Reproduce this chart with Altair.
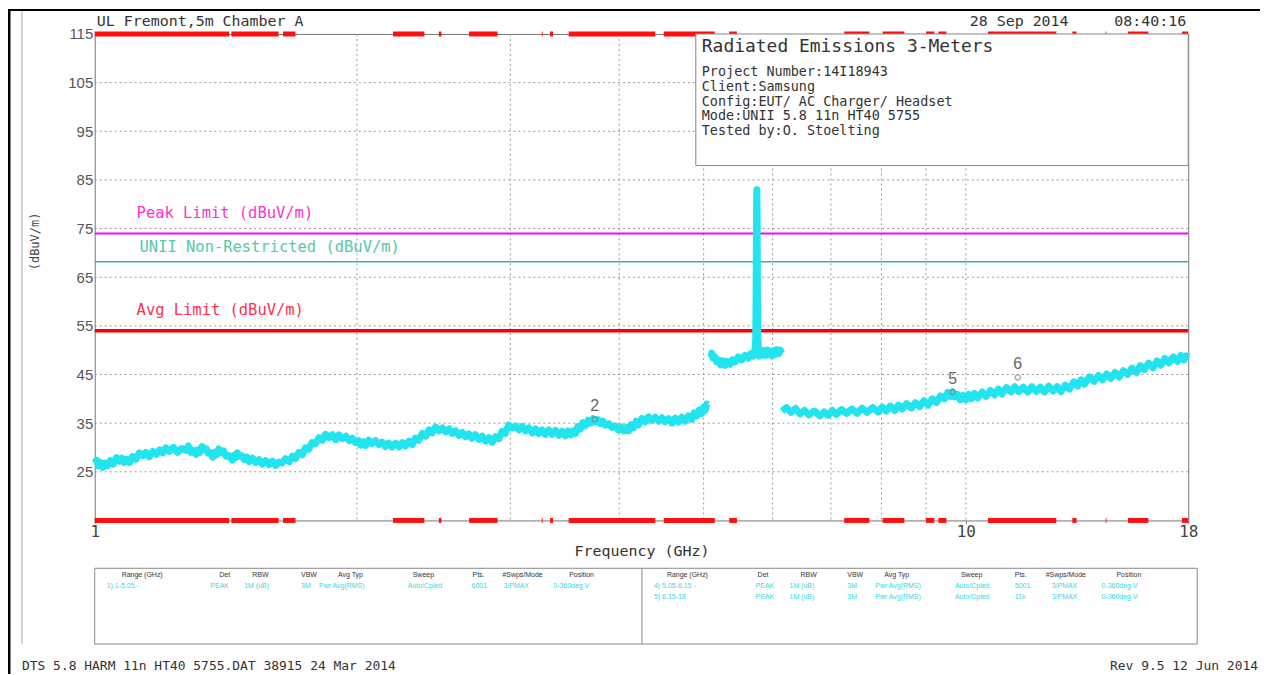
import altair as alt
import pandas as pd

# ---------------- data ----------------
# Trace segment A (1 - 5.06 GHz)
a_freq = [1.000, 1.005, 1.010, 1.016, 1.022, 1.028, 1.035, 1.042, 1.050, 1.059, 1.068, 1.074, 1.080,
          1.088, 1.096, 1.105, 1.115, 1.125, 1.136, 1.145, 1.155, 1.166, 1.177, 1.187, 1.197, 1.207,
          1.218, 1.231, 1.245, 1.259, 1.273, 1.281, 1.290, 1.298, 1.307, 1.314, 1.320, 1.328, 1.336,
          1.343, 1.350, 1.358, 1.366, 1.373, 1.380, 1.388, 1.396, 1.405, 1.415, 1.427, 1.439, 1.446,
          1.452, 1.458, 1.465, 1.475, 1.485, 1.495, 1.504, 1.517, 1.530, 1.544, 1.558, 1.571, 1.585,
          1.600, 1.614, 1.627, 1.640, 1.656, 1.672, 1.686, 1.700, 1.715, 1.731, 1.745, 1.760, 1.776,
          1.793, 1.809, 1.825, 1.841, 1.858, 1.874, 1.890, 1.907, 1.924, 1.942, 1.960, 1.976, 1.993,
          2.008, 2.020, 2.033, 2.046, 2.063, 2.080, 2.100, 2.119, 2.137, 2.155, 2.175, 2.194, 2.215,
          2.236, 2.255, 2.274, 2.295, 2.315, 2.335, 2.355, 2.377, 2.399, 2.420, 2.440, 2.462, 2.484,
          2.507, 2.530, 2.551, 2.573, 2.596, 2.620, 2.642, 2.665, 2.688, 2.710, 2.735, 2.761, 2.785,
          2.810, 2.835, 2.860, 2.885, 2.911, 2.935, 2.960, 2.987, 3.015, 3.042, 3.070, 3.097, 3.123,
          3.151, 3.180, 3.207, 3.234, 3.262, 3.290, 3.320, 3.350, 3.380, 3.410, 3.440, 3.470, 3.495,
          3.520, 3.541, 3.563, 3.586, 3.610, 3.634, 3.658, 3.684, 3.710, 3.733, 3.756, 3.781, 3.806,
          3.831, 3.856, 3.890, 3.925, 3.960, 3.994, 4.022, 4.050, 4.075, 4.101, 4.128, 4.155, 4.183,
          4.211, 4.248, 4.285, 4.323, 4.361, 4.400, 4.440, 4.478, 4.517, 4.558, 4.600, 4.639, 4.678,
          4.719, 4.760, 4.803, 4.845, 4.878, 4.910, 4.943, 4.975, 5.000, 5.020, 5.042, 5.064]
a_level = [26.8, 27.4, 26.2, 26.9, 25.9, 26.8, 26.3, 27.3, 26.6, 27.9, 27.2, 27.8, 26.9,
           27.6, 26.9, 28.1, 27.6, 28.9, 28.3, 29.0, 28.1, 29.2, 28.6, 29.5, 28.9, 29.9,
           29.2, 30.0, 29.0, 29.8, 29.4, 30.3, 29.0, 29.4, 28.6, 29.5, 29.0, 30.2, 29.5,
           29.7, 28.8, 28.9, 28.0, 29.0, 28.5, 29.7, 29.0, 29.3, 28.2, 28.3, 27.4, 28.4,
           27.9, 28.9, 28.2, 28.3, 27.5, 28.0, 27.1, 27.8, 26.9, 27.5, 26.6, 27.3, 26.5,
           27.2, 26.3, 27.0, 26.8, 27.7, 27.1, 28.2, 27.7, 29.0, 28.5, 29.9, 29.6, 31.0,
           30.8, 32.0, 31.5, 32.7, 32.0, 32.6, 31.6, 32.6, 31.8, 32.3, 31.4, 31.9, 31.0,
           31.4, 30.5, 31.2, 30.4, 31.5, 30.8, 31.4, 30.6, 31.1, 30.2, 30.9, 30.1, 30.9,
           30.1, 31.0, 30.3, 31.3, 30.6, 31.9, 31.5, 32.9, 32.3, 33.6, 33.0, 34.2, 33.4,
           34.0, 33.2, 33.8, 32.9, 33.4, 32.5, 33.1, 32.2, 32.8, 31.9, 32.6, 31.7, 32.3,
           31.3, 32.0, 31.1, 32.2, 31.8, 33.3, 32.9, 34.6, 34.0, 34.4, 33.6, 34.3, 33.4,
           34.0, 33.0, 33.8, 32.9, 33.6, 32.7, 33.6, 32.7, 33.5, 32.5, 33.3, 32.4, 33.4,
           32.6, 33.4, 32.9, 34.3, 33.8, 35.1, 34.5, 35.6, 35.0, 35.9, 35.3, 35.7, 34.9,
           35.4, 34.6, 34.9, 34.1, 34.4, 33.6, 34.2, 33.4, 34.1, 33.4, 34.7, 34.1, 35.4,
           34.7, 36.0, 35.3, 36.3, 35.6, 36.2, 35.4, 36.1, 35.3, 35.9, 35.0, 36.0, 35.2,
           36.2, 35.4, 36.5, 35.8, 37.1, 36.5, 37.7, 37.0, 38.3, 37.6, 38.9, 38.8]

# Trace segment B (5.10 - 6.15 GHz, carrier at 5.755 GHz)
b_freq = [5.100, 5.110, 5.125, 5.150, 5.175, 5.200, 5.230, 5.260, 5.292, 5.325, 5.360, 5.395,
          5.434, 5.480, 5.530, 5.578, 5.627, 5.665, 5.702, 5.725, 5.738, 5.745, 5.751, 5.755,
          5.759, 5.764, 5.770, 5.780, 5.795, 5.815, 5.840, 5.865, 5.890, 5.915, 5.940, 5.965,
          5.990, 6.015, 6.040, 6.070, 6.100, 6.125, 6.143]
b_level = [48.6, 49.4, 48.4, 48.6, 47.6, 48.0, 47.0, 47.8, 46.9, 47.7, 47.1, 48.0,
           47.6, 48.6, 48.0, 48.9, 48.4, 49.3, 48.8, 49.8, 52.0, 62.0, 80.0, 83.0,
           78.0, 62.0, 53.0, 50.5, 48.8, 49.8, 49.0, 49.9, 48.9, 50.0, 49.2, 49.8,
           48.8, 49.9, 49.1, 50.1, 49.3, 50.0, 49.4]

# Trace segment C (6.15 - 18 GHz)
c_freq = [6.150, 6.225, 6.300, 6.375, 6.450, 6.525, 6.600, 6.700, 6.800, 6.875, 6.950, 7.025,
          7.100, 7.200, 7.300, 7.400, 7.500, 7.600, 7.700, 7.815, 7.930, 8.015, 8.100, 8.190,
          8.286, 8.370, 8.450, 8.550, 8.658, 8.750, 8.850, 8.950, 9.049, 9.150, 9.250, 9.350,
          9.454, 9.530, 9.600, 9.655, 9.705, 9.780, 9.850, 9.925, 10.00, 10.07, 10.15, 10.23,
          10.32, 10.44, 10.55, 10.67, 10.79, 10.90, 11.00, 11.13, 11.27, 11.38, 11.50, 11.64,
          11.78, 11.91, 12.05, 12.18, 12.31, 12.45, 12.60, 12.73, 12.86, 13.00, 13.15, 13.30,
          13.44, 13.56, 13.68, 13.86, 14.04, 14.20, 14.35, 14.51, 14.67, 14.83, 15.00, 15.16,
          15.33, 15.51, 15.70, 15.86, 16.02, 16.21, 16.40, 16.57, 16.74, 16.92, 17.10, 17.30,
          17.49, 17.65, 17.80, 17.90, 18.00]
c_level = [37.5, 38.2, 37.2, 38.0, 36.9, 37.6, 36.7, 37.5, 36.5, 37.3, 36.6, 37.6,
           36.8, 37.8, 37.0, 37.9, 37.0, 38.1, 37.2, 38.2, 37.3, 38.3, 37.5, 38.5,
           37.6, 38.7, 37.9, 39.0, 38.1, 39.2, 38.4, 39.6, 38.7, 40.0, 39.2, 40.6,
           40.0, 41.3, 40.5, 41.4, 40.4, 40.9, 39.8, 40.7, 39.8, 40.9, 40.0, 41.1,
           40.2, 41.4, 40.5, 41.7, 40.8, 42.0, 41.0, 42.3, 41.4, 42.5, 41.5, 42.4,
           41.4, 42.5, 41.5, 42.4, 41.4, 42.6, 41.6, 42.5, 41.5, 42.8, 42.0, 43.5,
           42.6, 43.9, 43.0, 44.5, 43.6, 44.8, 43.9, 45.1, 44.2, 45.4, 44.5, 45.8,
           45.0, 46.3, 45.4, 46.8, 46.0, 47.3, 46.4, 47.8, 46.9, 48.3, 47.4, 48.6,
           47.7, 48.9, 48.0, 48.8, 48.4]

# Markers
marker_ids = ["2", "5", "6"]
marker_freq = [3.75, 9.66, 11.47]
marker_level = [35.8, 41.4, 44.4]

# Limits
limit_names = ["Peak Limit (dBuV/m)", "UNII Non-Restricted (dBuV/m)", "Avg Limit (dBuV/m)"]
limit_values = [74.0, 68.2, 54.0]

# Restricted bands (GHz)
rb_start = [1.0, 1.435, 1.645, 2.2, 2.4835, 2.69, 3.26, 3.332, 3.5, 4.5, 5.35, 7.25, 8.025,
            9.0, 9.3, 10.6, 13.25, 14.47, 15.35, 17.7]
rb_end = [1.427, 1.626, 1.7, 2.39, 2.5, 2.9, 3.267, 3.358, 4.4, 5.15, 5.46, 7.75, 8.5,
          9.2, 9.5, 12.7, 13.4, 14.5, 16.2, 18.0]

# Axis ticks / grid
x_tick_labels = [1, 10, 18]
x_grid = [2, 3, 4, 5, 6, 7, 8, 9, 10]
y_ticks = [25, 35, 45, 55, 65, 75, 85, 95, 105, 115]
y_grid = [25, 35, 45, 55, 65, 75, 85, 95, 105]

# Texts
header_left = "UL Fremont,5m Chamber A"
header_date = "28 Sep 2014"
header_time = "08:40:16"
info_title = "Radiated Emissions 3-Meters"
info_lines = ["Project Number:14I18943", "Client:Samsung", "Config:EUT/ AC Charger/ Headset",
              "Mode:UNII 5.8 11n HT40 5755", "Tested by:O. Stoelting"]
table_headers = ["Range (GHz)", "Det", "RBW", "VBW", "Avg Typ", "Sweep", "Pts.", "#Swps/Mode", "Position"]
table_row1 = ["1) 1-5.05 -", "PEAK", "1M (uB)", "3M", "Pwr Avg(RMS)", "Auto/Cpled", "6001", "3/PMAX", "0-360deg V"]
table_row4 = ["4) 5.05-6.15 -", "PEAK", "1M (uB)", "3M", "Pwr Avg(RMS)", "Auto/Cpled", "5001", "3/PMAX", "0-360deg V"]
table_row5 = ["5) 6.15-18", "PEAK", "1M (uB)", "3M", "Pwr Avg(RMS)", "Auto/Cpled", "11k", "3/PMAX", "0-360deg V"]
footer_left = "DTS 5.8 HARM 11n HT40 5755.DAT 38915 24 Mar 2014"
footer_right = "Rev 9.5 12 Jun 2014"

# ---------------- layout (pixels within plot area) ----------------
W, H = 1097, 488
MONO = "DejaVu Sans Mono"
SANS = "Liberation Sans"
CYAN = "#22E4EE"

trace = pd.concat([
    pd.DataFrame({"f": a_freq, "v": a_level, "seg": "A"}),
    pd.DataFrame({"f": b_freq, "v": b_level, "seg": "B"}),
    pd.DataFrame({"f": c_freq, "v": c_level, "seg": "C"}),
])
markers = pd.DataFrame({"id": marker_ids, "f": marker_freq, "v": marker_level})
limits = pd.DataFrame({"name": limit_names, "v": limit_values})
bands = pd.DataFrame({"s": rb_start, "e": rb_end})
xg = pd.DataFrame({"f": x_grid})
yg = pd.DataFrame({"v": y_grid})
one = pd.DataFrame({"k": [0]})

xs = alt.Scale(type="log", domain=[1, 18], nice=False, zero=False)
ys = alt.Scale(domain=[15, 115], nice=False, zero=False)


def txt(t, x, y, size=13, color="#333", align="left", font=MONO, angle=0, baseline="middle"):
    kw = dict(text=t, x=x, y=y, fontSize=size, color=color, align=align, font=font,
              baseline=baseline)
    if angle:
        kw["angle"] = angle
    return alt.Chart(one).mark_text(**kw)


def rule(x, y, x2, y2, color="#888", width=1, dash=None):
    kw = dict(color=color, strokeWidth=width)
    if dash:
        kw["strokeDash"] = dash
    return alt.Chart(one).mark_rule(**kw).encode(
        x=alt.value(x), y=alt.value(y), x2=alt.value(x2), y2=alt.value(y2))


base_axis = alt.Chart(trace).mark_line(opacity=0).encode(
    x=alt.X("f:Q", scale=xs, title="Frequency (GHz)",
            axis=alt.Axis(values=x_tick_labels, format="d", grid=False, domain=False,
                          tickSize=3, tickColor="#777", labelPadding=0, labelFontSize=16,
                          labelFont=MONO, labelColor="#444", titleFont=MONO, titleFontSize=15,
                          titleFontWeight="normal", titleColor="#333", titlePadding=4,
                          labelFlush=False)),
    y=alt.Y("v:Q", scale=ys, title=None,
            axis=alt.Axis(values=y_ticks, grid=False, domain=False, tickSize=0, labelPadding=2,
                          labelFontSize=15, labelFont=SANS, labelColor="#555")),
)

vgrid = alt.Chart(xg).mark_rule(color="#999", strokeWidth=1, strokeDash=[2, 3]).encode(
    x=alt.X("f:Q", scale=xs), y=alt.value(0), y2=alt.value(H))
hgrid = alt.Chart(yg).mark_rule(color="#999", strokeWidth=1, strokeDash=[2, 3]).encode(
    y=alt.Y("v:Q", scale=ys), x=alt.value(0), x2=alt.value(W))

band_top = alt.Chart(bands).mark_rule(color="#FF1010", strokeWidth=5).encode(
    x=alt.X("s:Q", scale=xs), x2="e:Q", y=alt.value(0))
band_bot = alt.Chart(bands).mark_rule(color="#FF1010", strokeWidth=5).encode(
    x=alt.X("s:Q", scale=xs), x2="e:Q", y=alt.value(H))

limit_colors = ["#FF00FF", "#3DB58A", "#FF0000"]
limit_widths = [2, 1.5, 3.5]
limit_layers = []
for i in range(3):
    limit_layers.append(
        alt.Chart(limits.iloc[[i]]).mark_rule(color=limit_colors[i], strokeWidth=limit_widths[i]).encode(
            y=alt.Y("v:Q", scale=ys), x=alt.value(0), x2=alt.value(W)))

line = alt.Chart(trace).mark_line(color=CYAN, strokeWidth=7, strokeJoin="round").encode(
    x=alt.X("f:Q", scale=xs), y=alt.Y("v:Q", scale=ys), detail="seg:N")

mk_pt = alt.Chart(markers).mark_point(shape="circle", size=28, filled=False, color="#777",
                                      strokeWidth=1.2).encode(
    x=alt.X("f:Q", scale=xs), y=alt.Y("v:Q", scale=ys))
mk_tx = alt.Chart(markers).mark_text(fontSize=16, color="#666", font=SANS, dy=-13).encode(
    x=alt.X("f:Q", scale=xs), y=alt.Y("v:Q", scale=ys), text="id:N")

# Info box
info_box = alt.Chart(one).mark_rect(fill="white", stroke="#888", strokeWidth=1).encode(
    x=alt.value(603), x2=alt.value(W), y=alt.value(0), y2=alt.value(132))

layers = [base_axis, vgrid, hgrid] + limit_layers + [band_top, band_bot, line, mk_pt, mk_tx, info_box]

# texts
layers.append(txt(header_left, 2, -13, size=15))
layers.append(txt(header_date, 977, -13, size=15, align="right"))
layers.append(txt(header_time, 1095, -13, size=15, align="right"))
layers.append(txt(info_title, 609, 13, size=18))
info_y = [38, 53, 68, 82, 97]
for t, y in zip(info_lines, info_y):
    layers.append(txt(t, 609, y, size=13.5))

limit_text_colors = ["#FF30D0", "#55C8A8", "#FF3050"]
limit_text_pos = [(42, 180), (45, 214), (42, 277)]
for t, c, (x, y) in zip(limit_names, limit_text_colors, limit_text_pos):
    layers.append(txt(t, x, y, size=15.5, color=c))

layers.append(txt("(dBuV/m)", -60, 237, size=12, angle=270, color="#444"))

# table
table_box = alt.Chart(one).mark_rect(fill="white", stroke="#888", strokeWidth=1).encode(
    x=alt.value(0), x2=alt.value(1106), y=alt.value(536), y2=alt.value(612))
layers.append(table_box)
layers.append(rule(549, 536, 549, 612, color="#888"))
left_hx = [27, 125, 158, 207, 244, 319, 379, 409, 476]
left_rx = [12, 116, 150, 207, 225, 314, 378, 410, 460]
right_hx = [574, 665, 708, 755, 792, 869, 923, 954, 1025]
right_rx = [561, 663, 697, 755, 783, 863, 923, 960, 1010]
for t, x in zip(table_headers, left_hx):
    layers.append(txt(t, x, 543, size=7, font=SANS, color="#333"))
for t, x in zip(table_headers, right_hx):
    layers.append(txt(t, x, 543, size=7, font=SANS, color="#333"))
for t, x in zip(table_row1, left_rx):
    layers.append(txt(t, x, 554, size=7, font=SANS, color="#30D8E8"))
for t, x in zip(table_row4, right_rx):
    layers.append(txt(t, x, 554, size=7, font=SANS, color="#30D8E8"))
for t, x in zip(table_row5, right_rx):
    layers.append(txt(t, x, 565, size=7, font=SANS, color="#30D8E8"))

# footer
layers.append(txt(footer_left, -73, 634, size=13))
layers.append(txt(footer_right, 1167, 634, size=13, align="right"))

# page borders
layers.append(rule(-86, -24, 1170, -24, color="#000", width=2))
layers.append(rule(-86, -25, -86, 642, color="#000", width=3))
layers.append(rule(-73, -23, -73, 612, color="#aaa", width=1))

chart = alt.layer(*layers).properties(
    width=W, height=H,
    padding={"left": 87, "top": 25, "right": 72, "bottom": 154},
    autosize=alt.AutoSizeParams(type="none"),
    background="white",
).configure_view(stroke="#777", strokeWidth=1)

chart.save("out.html", embed_options={"renderer": "svg", "actions": False})
